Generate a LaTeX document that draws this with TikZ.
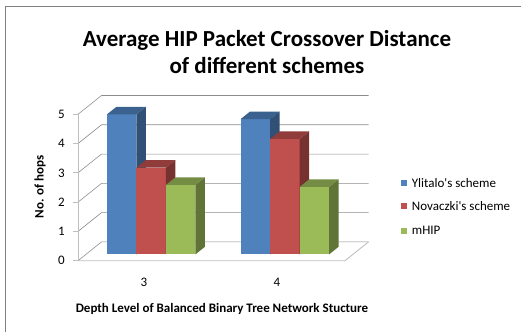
\documentclass[tikz,border=0pt]{standalone}
\usepackage{fontspec}
\setmainfont{Carlito}
\definecolor{ylblue}{RGB}{79,129,189}
\definecolor{nored}{RGB}{192,80,77}
\definecolor{mhgreen}{RGB}{155,187,89}
\definecolor{gridgray}{RGB}{140,140,140}
\definecolor{wallgray}{RGB}{190,190,190}
\definecolor{framegray}{RGB}{128,128,128}

% one 3D column: colour, left edge, value
\newcommand{\colbar}[3]{%
  \fill[#1] (#2,0,0.34) rectangle ({#2+29.5},#3,0.34);
  \fill[#1!75!black] (#2,#3,0.34) -- ({#2+29.5},#3,0.34) -- ({#2+29.5},#3,0.74) -- (#2,#3,0.74) -- cycle;
  \fill[#1!62!black] ({#2+29.5},0,0.34) -- ({#2+29.5},#3,0.34) -- ({#2+29.5},#3,0.74) -- ({#2+29.5},0,0.74) -- cycle;
}

\begin{document}
\begin{tikzpicture}[x=1pt, y=1pt,
    grid/.style={draw=gridgray, line width=0.6pt},
    wall/.style={draw=wallgray, line width=0.9pt},
    ticklabel/.style={font=\fontsize{13}{15}\selectfont, anchor=east, inner sep=0pt},
    axistitle/.style={font=\fontsize{13}{15}\selectfont\bfseries},
    legend/.style={font=\fontsize{13}{15}\selectfont, anchor=west, inner sep=0pt},
    swatch/.style={minimum size=6pt, inner sep=0pt}
]
    \useasboundingbox (0,0) rectangle (521,332);
    \draw[framegray, line width=1.5pt] (5.7,0) -- (5.7,325.3) -- (521,325.3);

    \node[font=\fontsize{23}{27}\selectfont\bfseries, align=center] (title) at (267,280)
        {Average HIP Packet Crossover Distance\\of different schemes};

    \begin{scope}[shift={(78,71.3)}, x={(1pt,0pt)}, y={(0pt,29.28pt)}, z={(23.5pt,18.8pt)}]
        % walls and gridlines
        \foreach \v in {0,...,5} {
            \draw[grid] (0,\v,0) -- (0,\v,1) -- (267,\v,1);
            \draw[wall] (-5,\v,0) -- (0,\v,0);
            \node[ticklabel] (tick\v) at (-13,\v,0) {\v};
        }
        \draw[wall] (0,0,0) -- (0,5,0);
        \draw[wall] (0,0,0) -- (267,0,0) -- (267,0,1);

        % depth 3
        \colbar{ylblue}{21}{4.78}
        \colbar{nored}{50.5}{2.96}
        \colbar{mhgreen}{80}{2.37}
        % depth 4
        \colbar{ylblue}{154.7}{4.62}
        \colbar{nored}{184.2}{3.94}
        \colbar{mhgreen}{213.7}{2.30}
    \end{scope}

    \node[font=\fontsize{13}{15}\selectfont] (cat3) at (144,49.3) {3};
    \node[font=\fontsize{13}{15}\selectfont] (cat4) at (277,49.3) {4};
    \node[axistitle] (xtitle) at (222,23) {Depth Level of Balanced Binary Tree Network Stucture};
    \node[axistitle, rotate=90] (ytitle) at (40,145) {No. of hops};

    % legend
    \node[swatch, fill=ylblue] (lg1) at (404,149.3) {};
    \node[swatch, fill=nored] (lg2) at (404,126) {};
    \node[swatch, fill=mhgreen] (lg3) at (404,101.3) {};
    \node[legend] (lt1) at (411.7,149.3) {Ylitalo\textquotesingle s scheme};
    \node[legend] (lt2) at (411.7,126) {Novaczki\textquotesingle s scheme};
    \node[legend] (lt3) at (411.7,101.3) {mHIP};
\end{tikzpicture}
\end{document}
